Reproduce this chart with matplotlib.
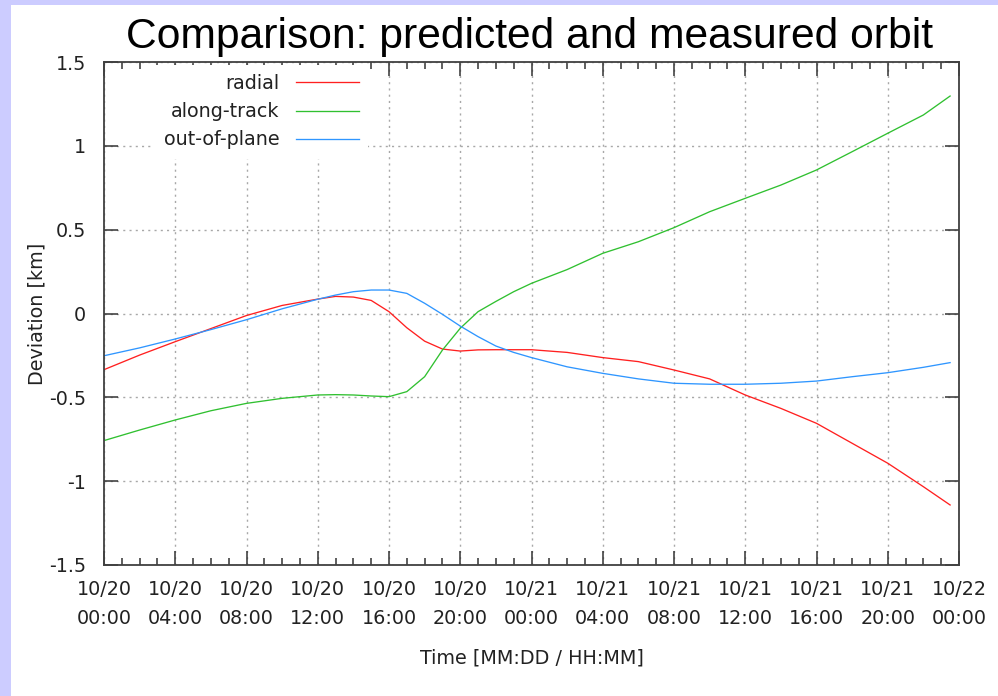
import matplotlib
matplotlib.use('Agg')
import matplotlib.pyplot as plt
import matplotlib.dates as mdates
from matplotlib.patches import Rectangle
import pandas as pd

# Donnees (heures depuis 10/20 00:00)
hours = [0, 2, 4, 6, 8, 10, 12, 13, 14, 15, 16, 17, 18, 19, 20, 21, 22, 23,
         24, 26, 28, 30, 32, 34, 36, 38, 40, 42, 44, 46, 47.5]
radial = [-0.335, -0.248, -0.168, -0.09, -0.012, 0.048, 0.086, 0.102, 0.098,
          0.078, 0.011, -0.085, -0.165, -0.212, -0.224, -0.217, -0.216,
          -0.216, -0.216, -0.232, -0.263, -0.287, -0.337, -0.39, -0.486,
          -0.566, -0.655, -0.774, -0.893, -1.033, -1.142]
along_track = [-0.758, -0.695, -0.635, -0.58, -0.536, -0.506, -0.486, -0.484,
               -0.486, -0.492, -0.496, -0.466, -0.377, -0.218, -0.088, 0.011,
               0.072, 0.13, 0.18, 0.262, 0.359, 0.428, 0.512, 0.607, 0.687,
               0.766, 0.856, 0.965, 1.075, 1.184, 1.297]
out_of_plane = [-0.252, -0.205, -0.152, -0.096, -0.037, 0.028, 0.085, 0.11,
                0.13, 0.14, 0.14, 0.12, 0.061, -0.005, -0.075, -0.138, -0.194,
                -0.232, -0.263, -0.318, -0.357, -0.39, -0.416, -0.422, -0.422,
                -0.416, -0.403, -0.377, -0.353, -0.321, -0.293]

start = pd.Timestamp('2013-10-20 00:00')
times = start + pd.to_timedelta(hours, unit='h')

fs = 13.8
plt.rcParams['font.family'] = 'DejaVu Sans'

fig = plt.figure(figsize=(9.98, 6.96), dpi=100)
fig.patch.set_facecolor('white')

# bordure lavande (fond de la diapo)
fig.add_artist(Rectangle((0, 0), 11 / 998, 1, transform=fig.transFigure,
                         facecolor='#ccccff', edgecolor='none', zorder=0))
fig.add_artist(Rectangle((0, 1 - 5 / 696), 1, 5 / 696, transform=fig.transFigure,
                         facecolor='#ccccff', edgecolor='none', zorder=0))

ax = fig.add_axes([104 / 998, 1 - 565 / 696, 855 / 998, 503 / 696])

ax.plot(times, radial, color='#ff2020', lw=0.95, label='radial')
ax.plot(times, along_track, color='#30c030', lw=0.95, label='along-track')
ax.plot(times, out_of_plane, color='#2f96ff', lw=0.95, label='out-of-plane')

ax.set_xlim(start, start + pd.Timedelta(hours=48))
ax.set_ylim(-1.5, 1.5)
ax.set_yticks([-1.5, -1, -0.5, 0, 0.5, 1, 1.5])
ax.set_yticklabels(['-1.5', '-1', '-0.5', '0', '0.5', '1', '1.5'])

ax.xaxis.set_major_locator(mdates.HourLocator(byhour=range(0, 24, 4)))
ax.xaxis.set_minor_locator(mdates.HourLocator())
ax.xaxis.set_major_formatter(mdates.DateFormatter('%m/%d\n%H:%M'))

ax.tick_params(axis='both', which='both', direction='in', top=True, right=True,
               labelsize=fs, colors='#333333', labelcolor='#222222')
ax.tick_params(axis='x', which='major', length=10, width=1.1, pad=11)
ax.tick_params(axis='y', which='major', length=10, width=1.1, pad=13)
ax.tick_params(axis='x', which='minor', length=5, width=1.1)
for lab in ax.get_xticklabels():
    lab.set_linespacing(1.62)

for sp in ax.spines.values():
    sp.set_color('#404040')
    sp.set_linewidth(1.3)

ax.grid(True, which='major', color='#a8a8a8', linestyle=(0, (1.5, 3)), linewidth=1.0)

ax.set_ylabel('Deviation [km]', fontsize=fs, color='#222222', labelpad=2)
ax.set_xlabel('Time [MM:DD / HH:MM]', fontsize=fs, color='#222222', labelpad=15)

leg = ax.legend(loc='upper right', bbox_to_anchor=(0.309, 0.995), markerfirst=False,
                fontsize=fs, handlelength=3.25, handletextpad=0.88,
                labelspacing=0.48, borderpad=0.5, frameon=True, fancybox=False,
                framealpha=1.0, borderaxespad=0)
leg.get_frame().set_edgecolor('none')
leg.get_frame().set_facecolor('white')
for t in leg.get_texts():
    t.set_color('#222222')

fig.text(530 / 998, 1 - 48 / 696, 'Comparison: predicted and measured orbit',
         ha='center', va='baseline', fontsize=30.7, family='Liberation Sans',
         color='black')

fig.savefig('out.png', dpi=100)
